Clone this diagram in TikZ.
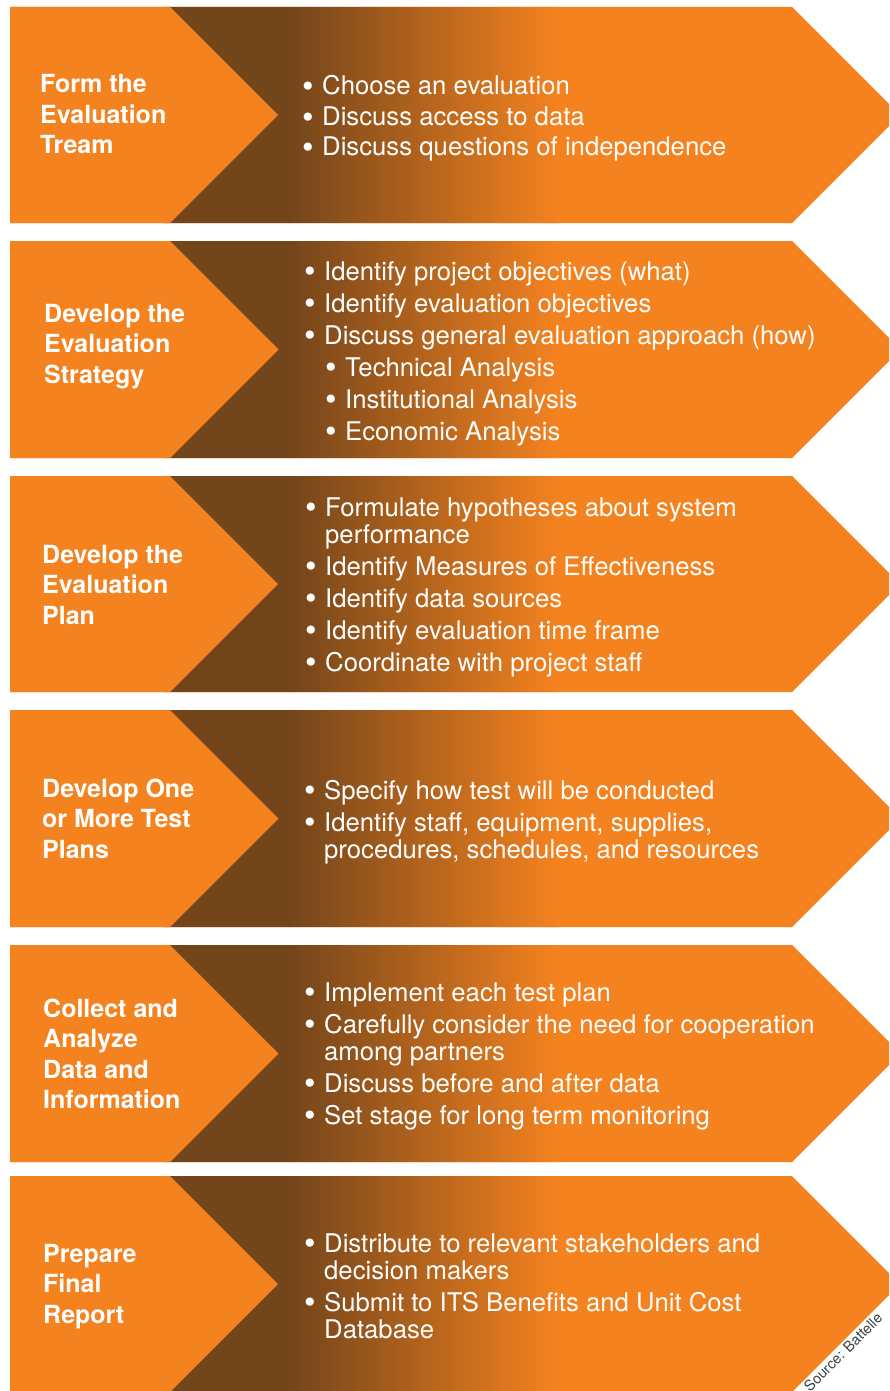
\documentclass[tikz,border=0pt]{standalone}
\usepackage{fontspec}
\setmainfont{TeX Gyre Heros}
\definecolor{orng}{HTML}{F4821F}
\definecolor{brn}{HTML}{73451B}
\newcommand\bigdot{\raisebox{-2.6pt}{\fontsize{33}{27}\selectfont\textbullet}}
\newcommand\bul{\makebox[20pt][l]{\bigdot}}
\newcommand\subbul{\hspace*{21pt}\makebox[20pt][l]{\bigdot}}
\newcommand\cont{\hspace*{20pt}}
\newcommand\tbox[1]{\parbox[t]{230pt}{\raggedright #1}}
\newcommand\lbox[1]{\parbox[t]{560pt}{\raggedright #1}}
\begin{document}
\begin{tikzpicture}[x=1pt,y=-1pt,
  title/.style={anchor=base west, inner sep=0pt, text=white,
    font=\fontsize{25}{30.5}\selectfont\bfseries},
  blist/.style={anchor=base west, inner sep=0pt, text=white,
    font=\fontsize{25.7}{27}\selectfont},
  srcnote/.style={rotate=45, inner sep=0pt, text=black!75,
    font=\fontsize{14.5}{16}\selectfont}]
\useasboundingbox (0,0) rectangle (889,1391);
\begin{scope}
\clip (0,0) rectangle (889,1391);
\foreach \T/\B in {7/223, 241/458, 476/692, 710/927, 945/1162, 1176/1392}{
  \pgfmathsetmacro\H{(\B-\T)/2}
  \pgfmathsetmacro\M{(\B+\T)/2}
  \begin{scope}
    \clip (10,\T) -- (792,\T) -- ({792+\H},\M) -- (792,\B) -- (10,\B) -- cycle;
    \fill[orng] (0,\T-3) rectangle (900,\B+3);
    \fill[brn] (165,\T-3) rectangle (290,\B+3);
    \shade[left color=brn, right color=orng] (289,\T-3) rectangle (558,\B+3);
  \end{scope}
  \fill[orng] (10,\T) -- (170,\T) -- ({170+\H},\M) -- (170,\B) -- (10,\B) -- cycle;
}
\end{scope}

% titles
\node[title] (t1) at (40,93) {\tbox{Form the\\Evaluation\\Tream}};
\node[title] (t2) at (44,322) {\tbox{Develop the\\Evaluation\\Strategy}};
\node[title] (t3) at (42,563) {\tbox{Develop the\\Evaluation\\Plan}};
\node[title] (t4) at (42,797) {\tbox{Develop One\\or More Test\\Plans}};
\node[title] (t5) at (43,1017) {\tbox{Collect and\\Analyze\\Data and\\Information}};
\node[title] (t6) at (43,1262) {\tbox{Prepare\\Final\\Report}};

% bullet lists
\node[blist] (l1) at (302,95) {\lbox{\bul Choose an evaluation\\[3.5pt]
  \bul Discuss access to data\\[3.5pt]
  \bul Discuss questions of independence}};
\node[blist] (l2) at (304,280) {\lbox{\bul Identify project objectives (what)\\[5pt]
  \bul Identify evaluation objectives\\[5pt]
  \bul Discuss general evaluation approach (how)\\[5pt]
  \subbul Technical Analysis\\[5pt]
  \subbul Institutional Analysis\\[5pt]
  \subbul Economic Analysis}};
\node[blist] (l3) at (305,516) {\lbox{\bul Formulate hypotheses about system\\
  \cont performance\\[5pt]
  \bul Identify Measures of Effectiveness\\[5pt]
  \bul Identify data sources\\[5pt]
  \bul Identify evaluation time frame\\[5pt]
  \bul Coordinate with project staff}};
\node[blist] (l4) at (304,799) {\lbox{\bul Specify how test will be conducted\\[5pt]
  \bul Identify staff, equipment, supplies,\\
  \cont procedures, schedules, and resources}};
\node[blist] (l5) at (304,1001) {\lbox{\bul Implement each test plan\\[5pt]
  \bul Carefully consider the need for cooperation\\
  \cont among partners\\[5pt]
  \bul Discuss before and after data\\[5pt]
  \bul Set stage for long term monitoring}};
\node[blist] (l6) at (304,1252) {\lbox{\bul Distribute to relevant stakeholders and\\
  \cont decision makers\\[5pt]
  \bul Submit to ITS Benefits and Unit Cost\\
  \cont Database}};

\node[srcnote] (src) at (843,1352) {Source: Battelle};
\end{tikzpicture}
\end{document}
